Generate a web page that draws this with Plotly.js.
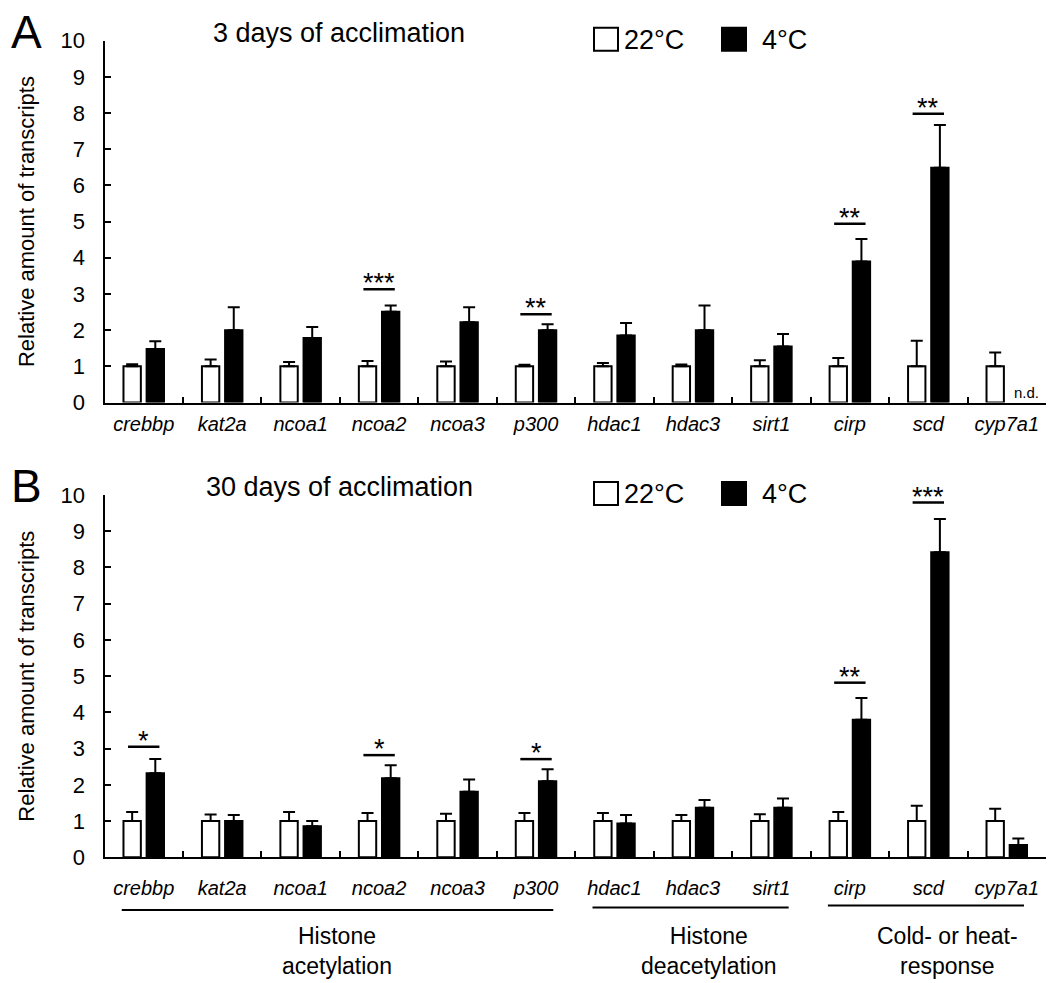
<!DOCTYPE html>
<html>
<head>
<meta charset="utf-8">
<script src="https://cdn.plot.ly/plotly-3.0.1.min.js"></script>
<style>html,body{margin:0;padding:0;background:#fff;}</style>
</head>
<body>
<div id="chart" style="width:1049px;height:983px;"></div>
<script>
// ---- data ----
const categories = ['crebbp','kat2a','ncoa1','ncoa2','ncoa3','p300','hdac1','hdac3','sirt1','cirp','scd','cyp7a1'];
const seriesNames = ['22°C', '4°C'];

// Panel A: 3 days of acclimation
const warmA    = [1, 1, 1, 1, 1, 1, 1, 1, 1, 1, 1, 1];
const warmErrA = [0.06, 0.19, 0.12, 0.15, 0.13, 0.04, 0.09, 0.05, 0.17, 0.23, 0.71, 0.38];
const coldA    = [1.48, 2.00, 1.78, 2.51, 2.22, 2.00, 1.85, 2.00, 1.55, 3.90, 6.49, null];
const coldErrA = [0.21, 0.63, 0.31, 0.17, 0.41, 0.16, 0.35, 0.68, 0.34, 0.62, 1.18, null];
const sigCatA  = ['ncoa2', 'p300', 'cirp', 'scd'];
const sigLevA  = [3.13, 2.44, 4.94, 7.98];
const sigTxtA  = ['***', '**', '**', '**'];
const ndCatA   = ['cyp7a1'];

// Panel B: 30 days of acclimation
const warmB    = [1, 1, 1, 1, 1, 1, 1, 1, 1, 1, 1, 1];
const warmErrB = [0.25, 0.18, 0.25, 0.22, 0.20, 0.22, 0.22, 0.17, 0.19, 0.25, 0.42, 0.34];
const coldB    = [2.32, 1.00, 0.86, 2.18, 1.81, 2.10, 0.93, 1.37, 1.37, 3.80, 8.42, 0.34];
const coldErrB = [0.39, 0.17, 0.14, 0.36, 0.34, 0.33, 0.24, 0.21, 0.25, 0.60, 0.92, 0.18];
const sigCatB  = ['crebbp', 'ncoa2', 'p300', 'cirp', 'scd'];
const sigLevB  = [3.05, 2.82, 2.71, 4.82, 9.79];
const sigTxtB  = ['*', '*', '*', '**', '***'];

// Gene groups
const groupNames = ['Histone<br>acetylation', 'Histone<br>deacetylation', 'Cold- or heat-<br>response'];
const groupFirst = ['crebbp', 'hdac1', 'cirp'];
const groupLast  = ['p300', 'sirt1', 'cyp7a1'];

// ---- layout helpers ----
const W = 1049, H = 983;
const px = v => v / W;
const py = v => 1 - v / H;
const FONT = 'Arial, "Liberation Sans", sans-serif';
const xDom = [px(104.5), px(1046)];
const yDomA = [py(402.5), py(40.7)];
const yDomB = [py(857.3), py(495)];

function barTrace(vals, errs, isCold, xa, ya, name) {
  return {
    type: 'bar', x: categories, y: vals, name: name, xaxis: xa, yaxis: ya,
    showlegend: false,
    marker: { color: isCold ? '#000000' : '#ffffff', line: { color: '#000000', width: 2 } },
    error_y: {
      type: 'data', symmetric: false, array: errs,
      arrayminus: errs.map(() => 0), color: '#000000', thickness: 2, width: 6, visible: true
    },
    hoverinfo: 'x+y'
  };
}

const data = [
  barTrace(warmA, warmErrA, false, 'x', 'y', seriesNames[0]),
  barTrace(coldA, coldErrA, true, 'x', 'y', seriesNames[1]),
  barTrace(warmB, warmErrB, false, 'x2', 'y2', seriesNames[0]),
  barTrace(coldB, coldErrB, true, 'x2', 'y2', seriesNames[1])
];

function xAxis(anchor, standoff) {
  return {
    domain: xDom, anchor: anchor, type: 'category', categoryorder: 'array', categoryarray: categories,
    range: [-0.5, categories.length - 0.5],
    showline: true, linecolor: '#000', linewidth: 2, mirror: false,
    ticks: 'inside', tickson: 'boundaries', ticklen: 6, tickwidth: 2, tickcolor: '#000',
    tickfont: { family: FONT, size: 20, color: '#000', style: 'italic' },
    ticklabelstandoff: standoff,
    showgrid: false, zeroline: false, fixedrange: true
  };
}
function yAxis(anchor, dom) {
  return {
    domain: dom, anchor: anchor, range: [0, 10], dtick: 1, tick0: 0,
    showline: true, linecolor: '#000', linewidth: 2,
    ticks: 'inside', ticklen: 6, tickwidth: 2, tickcolor: '#000',
    tickfont: { family: FONT, size: 22, color: '#000' },
    ticklabelstandoff: 13,
    showgrid: false, zeroline: false, fixedrange: true,
    title: { text: 'Relative amount of transcripts', font: { family: FONT, size: 22, color: '#000' }, standoff: 20 }
  };
}

const shapes = [];
const annotations = [];

function addSig(cats, levs, txts, xr, yr) {
  cats.forEach((c, i) => {
    const idx = categories.indexOf(c);
    shapes.push({ type: 'line', xref: xr, yref: yr, x0: idx - 0.2, x1: idx + 0.2, y0: levs[i], y1: levs[i],
      line: { color: '#000', width: 2.5 } });
    annotations.push({ xref: xr, yref: yr, x: idx, y: levs[i], text: txts[i], showarrow: false,
      yanchor: 'bottom', xanchor: 'center', yshift: -11, font: { family: FONT, size: 27, color: '#000' } });
  });
}
addSig(sigCatA, sigLevA, sigTxtA, 'x', 'y');
addSig(sigCatB, sigLevB, sigTxtB, 'x2', 'y2');

ndCatA.forEach(c => {
  annotations.push({ xref: 'x', yref: 'y', x: categories.indexOf(c), y: 0, text: 'n.d.', showarrow: false,
    xanchor: 'center', yanchor: 'bottom', xshift: 20, yshift: 0, font: { family: FONT, size: 15, color: '#000' } });
});

// panel letters, titles and legends
function panelDecor(letter, title, topPx) {
  annotations.push({ xref: 'paper', yref: 'paper', x: px(9), y: py(topPx - 9), text: letter, showarrow: false,
    xanchor: 'left', yanchor: 'middle', font: { family: FONT, size: 46, color: '#000' } });
  annotations.push({ xref: 'paper', yref: 'paper', x: px(339), y: py(topPx - 8), text: title, showarrow: false,
    xanchor: 'center', yanchor: 'middle', font: { family: FONT, size: 27, color: '#000' } });
  // legend boxes
  const ly = topPx - 1;
  shapes.push({ type: 'rect', xref: 'paper', yref: 'paper', x0: px(594), x1: px(618), y0: py(ly + 11), y1: py(ly - 12),
    fillcolor: '#fff', line: { color: '#000', width: 2 } });
  shapes.push({ type: 'rect', xref: 'paper', yref: 'paper', x0: px(722), x1: px(746), y0: py(ly + 11), y1: py(ly - 12),
    fillcolor: '#000', line: { color: '#000', width: 2 } });
  annotations.push({ xref: 'paper', yref: 'paper', x: px(622), y: py(ly), text: seriesNames[0], showarrow: false,
    xanchor: 'left', yanchor: 'middle', font: { family: FONT, size: 27, color: '#000' } });
  annotations.push({ xref: 'paper', yref: 'paper', x: px(760), y: py(ly), text: seriesNames[1], showarrow: false,
    xanchor: 'left', yanchor: 'middle', font: { family: FONT, size: 27, color: '#000' } });
}

// group brackets under panel B
const groupLineY = [910, 907.5, 905.5];
const groupLabelX = [2.46, 7.2, 10.25];
groupNames.forEach((g, i) => {
  const a = categories.indexOf(groupFirst[i]), b = categories.indexOf(groupLast[i]);
  shapes.push({ type: 'line', xref: 'x2', yref: 'paper', x0: a - 0.28, x1: b + 0.22, y0: py(groupLineY[i]), y1: py(groupLineY[i]),
    line: { color: '#000', width: 2 } });
  annotations.push({ xref: 'x2', yref: 'paper', x: groupLabelX[i], y: py(921), text: g, showarrow: false,
    xanchor: 'center', yanchor: 'top', align: 'center', font: { family: FONT, size: 23, color: '#000' } });
});

const layout = {
  width: W, height: H,
  margin: { l: 0, r: 0, t: 0, b: 0 },
  paper_bgcolor: '#fff', plot_bgcolor: 'rgba(0,0,0,0)',
  barmode: 'group', bargap: 0.41, bargroupgap: 0.25,
  showlegend: false,
  font: { family: FONT, color: '#000' },
  xaxis: xAxis('y', 2),
  yaxis: yAxis('x', yDomA),
  xaxis2: xAxis('y2', 12),
  yaxis2: yAxis('x2', yDomB),
  shapes: shapes,
  annotations: annotations
};

panelDecor('A', '3 days of acclimation', 40.7);
panelDecor('B', '30 days of acclimation', 495);

Plotly.newPlot('chart', data, layout, { displayModeBar: false, staticPlot: true });
</script>
</body>
</html>
